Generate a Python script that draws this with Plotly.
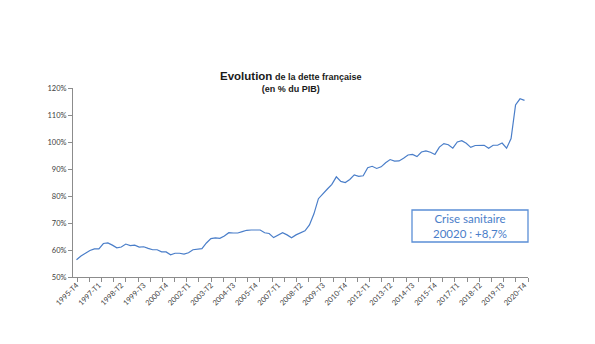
import plotly.graph_objects as go

# Quarterly categories 1995-T4 .. 2020-T4
quarters = []
y, q = 1995, 4
while (y, q) <= (2020, 4):
    quarters.append(f"{y}-T{q}")
    q += 1
    if q > 4:
        q = 1
        y += 1

# Dette publique (% du PIB)
debt = [
    56.4, 57.8, 58.8, 59.8, 60.4, 60.4, 62.4, 62.6, 61.8, 60.8,
    61.1, 62.2, 61.6, 61.8, 61.1, 61.2, 60.6, 60.1, 60.1, 59.3,
    59.3, 58.2, 58.8, 58.8, 58.5, 59.0, 60.1, 60.2, 60.5, 62.6,
    64.2, 64.5, 64.3, 65.2, 66.4, 66.3, 66.3, 66.8, 67.3, 67.4,
    67.4, 67.4, 66.4, 66.1, 64.6, 65.6, 66.4, 65.6, 64.5, 65.6,
    66.4, 67.1, 69.3, 73.4, 79.0, 81.0, 82.6, 84.3, 87.1, 85.4,
    85.0, 86.1, 87.8, 87.3, 87.5, 90.5, 91.0, 90.2, 90.8, 92.3,
    93.5, 92.9, 93.0, 94.0, 95.2, 95.4, 94.6, 96.3, 96.7, 96.2,
    95.4, 98.1, 99.4, 99.0, 97.7, 100.0, 100.5, 99.5, 98.0, 98.7,
    98.8, 98.8, 97.7, 98.8, 98.8, 99.6, 97.7, 101.3, 113.7, 116.0,
    115.4,
]

label_every = 5
tick_idx = list(range(0, len(quarters), label_every))
tick_text = [quarters[i] for i in tick_idx]
x_idx = list(range(len(quarters)))

fig = go.Figure()
fig.add_trace(go.Scatter(
    x=x_idx, y=debt, mode="lines",
    line=dict(color="#4a7ec9", width=1.2),
    hoverinfo="skip",
))

axis_color = "#8c8c8c"
tick_font = dict(family="Lato, DejaVu Sans, sans-serif", size=7.5, color="#404040")

fig.update_layout(
    width=595, height=344,
    margin=dict(l=73, r=67, t=88, b=67),
    paper_bgcolor="white", plot_bgcolor="white",
    showlegend=False,
    xaxis=dict(
        range=[-0.78, 100.78],
        tickmode="array", tickvals=tick_idx, ticktext=tick_text,
        tickangle=-45, tickfont=tick_font,
        ticks="", showgrid=False, zeroline=False,
        showline=True, linecolor=axis_color, linewidth=1,
        minor=dict(ticks="outside", ticklen=4, tickcolor=axis_color,
                   dtick=2.72, tick0=100.78, showgrid=False),
    ),
    yaxis=dict(
        range=[50, 120], dtick=10, ticksuffix="%",
        tickfont=tick_font,
        ticks="outside", ticklen=4, tickcolor=axis_color,
        showgrid=False, zeroline=False,
        showline=True, linecolor=axis_color, linewidth=1,
    ),
)

# Title
fig.add_annotation(
    xref="paper", yref="paper", x=(290 - 73) / 455, y=(277 - 82) / 189,
    xanchor="center", yanchor="middle", showarrow=False,
    text="<b><span style='font-size:11.5px'>Evolution</span> de la dette française<br>(en % du PIB)</b>",
    font=dict(family="Liberation Sans, Arial, sans-serif", size=9, color="#1a1a1a"),
    align="center",
)

# Callout box
fig.add_shape(
    type="rect", xref="paper", yref="paper",
    x0=(412 - 73) / 455, x1=(528 - 73) / 455,
    y0=(277 - 242) / 189, y1=(277 - 210) / 189,
    line=dict(color="#5b8fd6", width=1.3), fillcolor="white",
)
fig.add_annotation(
    xref="paper", yref="paper", x=(470 - 73) / 455, y=(277 - 226) / 189,
    xanchor="center", yanchor="middle", showarrow=False,
    text="Crise sanitaire<br>20020 : +8,7%",
    font=dict(family="Lato, DejaVu Sans, sans-serif", size=11.5, color="#4a7ec9"),
    align="center",
)

fig.write_html("out.html")
